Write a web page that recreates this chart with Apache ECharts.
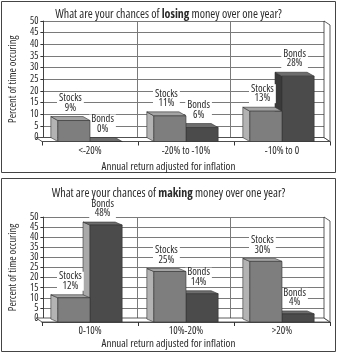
<!DOCTYPE html>
<html>
<head>
<meta charset="utf-8">
<script src="https://cdn.jsdelivr.net/npm/echarts@6/dist/echarts.min.js"></script>
<style>
  html, body { margin: 0; padding: 0; background: #fff; }
  #chart { width: 337px; height: 353px; }
</style>
</head>
<body>
<div id="chart"></div>
<script>
// Chance of losing money over one year, by inflation-adjusted return band
const losingCategories = ['<-20%', '-20% to -10%', '-10% to 0'];
const losingStocks = [9, 11, 13];
const losingBonds = [0, 6, 28];

// Chance of making money over one year, by inflation-adjusted return band
const makingCategories = ['0-10%', '10%-20%', '>20%'];
const makingStocks = [12, 25, 30];
const makingBonds = [48, 14, 4];

const yTicks = { min: 0, max: 50, interval: 5 };

// condensed face of a variable-width font, passed through the CSS font shorthand
const FONT = "'Open Sans', Roboto, sans-serif";
const NARROW = 'condensed';
const TEXT = '#2b2b2b';
const EDGE = '#333';

// per-panel layout: back wall grid and the floor-front grid it is seen through
const panels = [
  { back: { left: 36, top: 21, width: 288, height: 116.5 }, depth: [-7, -4], floor: [-6, -4],
    bondSide: '#3a3a3a' },
  { back: { left: 36, top: 217, width: 288, height: 101 }, depth: [-7, -3], floor: [-6, -4],
    bondSide: '#a9a9a9' }
];

const BAR_FRAC = 0.335;

const palettes = {
  Stocks: { front: '#7e7e7e', side: '#b3b3b3', top: '#a4a4a4' },
  Bonds: { front: '#4b4b4b', side: null, top: '#6d6d6d' }
};

function barRenderer(name, panel) {
  const pal = palettes[name];
  const sideColor = pal.side || panel.bondSide;
  const [dx, dy] = panel.depth;
  return function (params, api) {
    const cat = api.value(0);
    const v = api.value(1);
    const base = api.coord([cat, 0]);
    const top = api.coord([cat, v]);
    const band = api.size([1, 0])[0];
    const w = band * BAR_FRAC;
    const x0 = name === 'Stocks' ? base[0] - w : base[0];
    const x1 = x0 + w;
    const yb = base[1];
    const yt = top[1];
    const stroke = { stroke: EDGE, lineWidth: 0.6 };
    return {
      type: 'group',
      children: [
        { type: 'polygon', shape: { points: [[x0, yt], [x0 + dx, yt + dy], [x0 + dx, yb + dy], [x0, yb]] },
          style: Object.assign({ fill: sideColor }, stroke) },
        { type: 'polygon', shape: { points: [[x0, yt], [x0 + dx, yt + dy], [x1 + dx, yt + dy], [x1, yt]] },
          style: Object.assign({ fill: pal.top }, stroke) },
        { type: 'rect', shape: { x: x0, y: yt, width: w, height: yb - yt },
          style: Object.assign({ fill: pal.front }, stroke) },
        { type: 'text', z2: 10,
          style: {
            text: name + '\n' + v + '%',
            x: (x0 + x1) / 2 + dx / 2,
            y: yt + dy - 4,
            align: 'center',
            verticalAlign: 'bottom',
            fontFamily: FONT,
            fontWeight: NARROW,
            fontSize: 10.5,
            lineHeight: 9.5,
            fill: TEXT,
            backgroundColor: '#fff',
            padding: [0, 2]
          } }
      ]
    };
  };
}

function floorRenderer(panel) {
  const [fx, fy] = panel.floor;
  return function (params) {
    const cs = params.coordSys;
    const L = cs.x, R = cs.x + cs.width, B = cs.y + cs.height, T = cs.y;
    const style = { fill: '#fff', stroke: EDGE, lineWidth: 0.8 };
    return {
      type: 'group',
      children: [
        { type: 'polygon', shape: { points: [[L, B], [R, B], [R + fx, B + fy], [L + fx, B + fy]] }, style },
        { type: 'polygon', shape: { points: [[R, B], [R, T], [R + fx, T + fy], [R + fx, B + fy]] }, style }
      ]
    };
  };
}

const grids = [];
const xAxes = [];
const yAxes = [];
const series = [];

[[losingCategories, losingStocks, losingBonds], [makingCategories, makingStocks, makingBonds]]
  .forEach(([cats, stocks, bonds], i) => {
    const p = panels[i];
    const b = p.back;
    const front = { left: b.left - p.floor[0], top: b.top - p.floor[1], width: b.width, height: b.height };
    grids.push(b, front);
    const gBack = i * 2, gFront = i * 2 + 1;

    xAxes.push({
      gridIndex: gBack, type: 'category', data: cats,
      axisLine: { show: false }, axisTick: { show: false }, axisLabel: { show: false },
      splitLine: { show: true, interval: 0, lineStyle: { color: '#7a7a7a', width: 1 } }
    });
    xAxes.push({
      gridIndex: gFront, type: 'category', data: cats,
      axisLine: { show: true, lineStyle: { color: EDGE, width: 0.8 } },
      axisTick: { show: true, interval: 0, length: 4, lineStyle: { color: EDGE } },
      axisLabel: { show: true, interval: 0, margin: 4, color: TEXT, fontFamily: FONT, fontWeight: NARROW, fontSize: 10.5 },
      splitLine: { show: false }
    });

    yAxes.push({
      gridIndex: gBack, type: 'value', min: yTicks.min, max: yTicks.max, interval: yTicks.interval,
      name: 'Percent of time occuring', nameLocation: 'middle', nameGap: 21,
      nameTextStyle: { color: TEXT, fontFamily: FONT, fontWeight: NARROW, fontSize: 10.5 },
      axisLine: { show: true, lineStyle: { color: EDGE, width: 0.8 } },
      axisTick: { show: true, length: 3, lineStyle: { color: EDGE } },
      axisLabel: {
        margin: 5, color: TEXT, fontFamily: FONT, fontWeight: NARROW, fontSize: 10, lineHeight: 9,
        hideOverlap: false, showMinLabel: true, showMaxLabel: true
      },
      splitLine: { show: true, lineStyle: { color: '#7a7a7a', width: 1 } }
    });
    yAxes.push({
      gridIndex: gFront, type: 'value', min: yTicks.min, max: yTicks.max, interval: yTicks.interval,
      show: false
    });

    series.push({
      type: 'custom', name: 'floor', xAxisIndex: gFront, yAxisIndex: gFront, z: 1, silent: true,
      renderItem: floorRenderer(p), data: [[0, 0]]
    });
    series.push({
      type: 'custom', name: 'Bonds', xAxisIndex: gFront, yAxisIndex: gFront, z: 2, silent: true,
      renderItem: barRenderer('Bonds', p), data: bonds.map((v, k) => [k, v])
    });
    series.push({
      type: 'custom', name: 'Stocks', xAxisIndex: gFront, yAxisIndex: gFront, z: 3, silent: true,
      renderItem: barRenderer('Stocks', p), data: stocks.map((v, k) => [k, v])
    });
  });

const titleStyle = {
  color: TEXT, fontFamily: FONT, fontSize: 12, fontWeight: NARROW,
  rich: { b: { color: TEXT, fontFamily: FONT, fontSize: 12, fontWeight: 'bold ' + NARROW } }
};
const nameStyle = { color: TEXT, fontFamily: FONT, fontSize: 11, fontWeight: NARROW };

const option = {
  backgroundColor: '#fff',
  animation: false,
  title: [
    { text: 'What are your chances of {b|losing} money over one year?', left: 'center', top: 4, textStyle: titleStyle },
    { text: 'Annual return adjusted for inflation', left: 'center', top: 156, textStyle: nameStyle },
    { text: 'What are your chances of {b|making} money over one year?', left: 'center', top: 183, textStyle: titleStyle },
    { text: 'Annual return adjusted for inflation', left: 'center', top: 333, textStyle: nameStyle }
  ],
  graphic: [
    { type: 'rect', shape: { x: 1.5, y: 1.5, width: 334, height: 171 }, style: { fill: 'none', stroke: '#444', lineWidth: 1 }, silent: true },
    { type: 'rect', shape: { x: 1.5, y: 178.5, width: 334, height: 173 }, style: { fill: 'none', stroke: '#444', lineWidth: 1 }, silent: true }
  ],
  grid: grids,
  xAxis: xAxes,
  yAxis: yAxes,
  series
};

const chart = echarts.init(document.getElementById('chart'), null, { renderer: 'canvas' });
chart.setOption(option);
</script>
</body>
</html>
